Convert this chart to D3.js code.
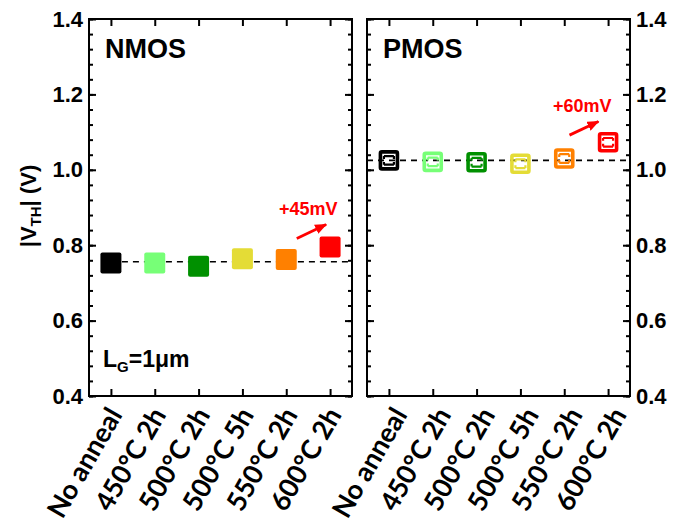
<!DOCTYPE html>
<html>
<head>
<meta charset="utf-8">
<script src="https://cdn.jsdelivr.net/npm/d3@7"></script>
<style>
  body { margin: 0; background: #fff; }
  svg { display: block; }
</style>
</head>
<body>
<svg id="chart" width="673" height="526"></svg>
<script>
// Anneal conditions shared by both device panels
const categories = ["No anneal", "450°C 2h", "500°C 2h", "500°C 5h", "550°C 2h", "600°C 2h"];
const markerColors = ["#000000", "#77ff77", "#009000", "#e4dc36", "#ff8000", "#ff0000"];

// Threshold voltage |VTH| (V) per condition
const nmosVth = [0.753, 0.753, 0.744, 0.764, 0.762, 0.795];
const pmosVth = [1.025, 1.021, 1.020, 1.016, 1.030, 1.073];

// Reference level (dashed line) for each device type
const nmosBaseline = 0.756;
const pmosBaseline = 1.025;

// Y axis ticks
const yMajorTicks = [0.4, 0.6, 0.8, 1.0, 1.2, 1.4];
const yMinorTicks = d3.range(0.4, 1.4001, 0.04);

const svg = d3.select("#chart");
const plotTop = 19, plotBottom = 396;
const y = d3.scaleLinear().domain([0.4, 1.4]).range([plotBottom, plotTop]);

const panels = [
  { name: "NMOS", left: 89, right: 352, values: nmosVth, baseline: nmosBaseline,
    filled: true, labelSide: "left", shift: "+45mV", catLabelDx: 4,
    arrow: [[4.24, 0.818], [4.91, 0.855]], shiftAt: [4.5, 0.881], lineFrom: 0 },
  { name: "PMOS", left: 367, right: 630, values: pmosVth, baseline: pmosBaseline,
    filled: false, labelSide: "right", shift: "+60mV", catLabelDx: 11,
    arrow: [[4.12, 1.092], [4.78, 1.128]], shiftAt: [4.41, 1.154], lineFrom: -0.5 }
];

const defs = svg.append("defs");
defs.append("marker")
  .attr("id", "arrowhead")
  .attr("viewBox", "0 0 12 10")
  .attr("refX", 11).attr("refY", 5)
  .attr("markerWidth", 12).attr("markerHeight", 10)
  .attr("markerUnits", "userSpaceOnUse")
  .attr("orient", "auto")
  .append("path")
  .attr("d", "M0,0 L12,5 L0,10 Z")
  .attr("fill", "#ff0000");

const tickFont = "'Liberation Sans', Arial, sans-serif";

panels.forEach(p => {
  const x = d3.scaleLinear().domain([-0.5, categories.length - 0.5]).range([p.left, p.right]);
  const g = svg.append("g");

  // Y axes: major ticks (labelled on one side), minor ticks, mirrored on the other side
  const makeY = (side, labelled) => {
    const axMajor = (side === "left" ? d3.axisLeft(y) : d3.axisRight(y))
      .tickValues(yMajorTicks).tickSizeInner(-7).tickSizeOuter(0).tickPadding(6)
      .tickFormat(labelled ? d3.format(".1f") : "");
    const axMinor = (side === "left" ? d3.axisLeft(y) : d3.axisRight(y))
      .tickValues(yMinorTicks).tickSizeInner(-4).tickSizeOuter(0).tickFormat("");
    const xpos = side === "left" ? p.left : p.right;
    const gm = g.append("g").attr("transform", `translate(${xpos},0)`).call(axMinor);
    const gM = g.append("g").attr("transform", `translate(${xpos},0)`).call(axMajor);
    [gm, gM].forEach(a => {
      a.select(".domain").remove();
      a.selectAll("line").attr("stroke", "#000").attr("stroke-width", 2);
    });
    gM.selectAll("text")
      .attr("font-family", tickFont).attr("font-weight", "bold")
      .attr("font-size", 22).attr("fill", "#000");
  };
  makeY("left", p.labelSide === "left");
  makeY("right", p.labelSide === "right");

  // Category ticks on bottom and top edges, pointing inward
  const catTicks = d3.range(categories.length);
  const bAx = d3.axisBottom(x).tickValues(catTicks).tickSizeInner(-7).tickSizeOuter(0).tickFormat("");
  const tAx = d3.axisTop(x).tickValues(catTicks).tickSizeInner(-7).tickSizeOuter(0).tickFormat("");
  [[bAx, plotBottom], [tAx, plotTop]].forEach(([ax, ypos]) => {
    const a = g.append("g").attr("transform", `translate(0,${ypos})`).call(ax);
    a.select(".domain").remove();
    a.selectAll("line").attr("stroke", "#000").attr("stroke-width", 2);
  });

  // Rotated category labels
  g.append("g").selectAll("text")
    .data(categories)
    .join("text")
    .attr("transform", (d, i) => `translate(${x(i) + p.catLabelDx},${plotBottom + 14}) rotate(-60)`)
    .attr("text-anchor", "end")
    .attr("dy", "0.35em")
    .attr("font-family", "Lato, 'Open Sans', sans-serif")
    .attr("font-weight", "bold")
    .attr("font-size", 27)
    .attr("fill", "#000")
    .text(d => d);

  // Reference level
  g.append("line")
    .attr("x1", x(p.lineFrom)).attr("x2", x(categories.length - 0.5))
    .attr("y1", y(p.baseline)).attr("y2", y(p.baseline))
    .attr("stroke", "#000").attr("stroke-width", 1.6)
    .attr("stroke-dasharray", "6,5");

  // Markers
  const marks = g.append("g").selectAll("g")
    .data(p.values)
    .join("g")
    .attr("transform", (d, i) => `translate(${x(i)},${y(d)})`);

  if (p.filled) {
    marks.append("rect")
      .attr("x", -10.5).attr("y", -10.5).attr("width", 21).attr("height", 21)
      .attr("rx", 2)
      .attr("fill", (d, i) => markerColors[i]);
  } else {
    marks.append("rect")
      .attr("x", -8.5).attr("y", -8.5).attr("width", 17).attr("height", 17)
      .attr("rx", 1.5)
      .attr("fill", "none")
      .attr("stroke", (d, i) => markerColors[i])
      .attr("stroke-width", 3.6);
    // small error bar drawn inside each hollow marker
    marks.append("path")
      .attr("d", "M-5,-4.3 H5 M-5,-4.3 V-1.5 M5,-4.3 V-1.5 M-5,4.3 H5 M-5,4.3 V1.5 M5,4.3 V1.5")
      .attr("fill", "none")
      .attr("stroke", (d, i) => markerColors[i])
      .attr("stroke-width", 2.2);
  }

  // Frame
  g.append("rect")
    .attr("x", p.left).attr("y", plotTop)
    .attr("width", p.right - p.left).attr("height", plotBottom - plotTop)
    .attr("fill", "none").attr("stroke", "#000").attr("stroke-width", 2);

  // Panel title
  g.append("text")
    .attr("x", p.left + 16).attr("y", 58)
    .attr("font-family", tickFont).attr("font-weight", "bold")
    .attr("font-size", 27).attr("fill", "#000")
    .text(p.name);

  // Shift annotation with arrow
  g.append("line")
    .attr("x1", x(p.arrow[0][0])).attr("y1", y(p.arrow[0][1]))
    .attr("x2", x(p.arrow[1][0])).attr("y2", y(p.arrow[1][1]))
    .attr("stroke", "#ff0000").attr("stroke-width", 2.8)
    .attr("marker-end", "url(#arrowhead)");
  g.append("text")
    .attr("x", x(p.shiftAt[0])).attr("y", y(p.shiftAt[1]))
    .attr("text-anchor", "middle")
    .attr("font-family", tickFont).attr("font-weight", "bold")
    .attr("font-size", 18).attr("fill", "#ff0000")
    .text(p.shift);
});

// Gate length note
const lg = svg.append("text")
  .attr("x", 103).attr("y", 367)
  .attr("font-family", tickFont).attr("font-weight", "bold")
  .attr("font-size", 23).attr("fill", "#000");
lg.append("tspan").text("L");
lg.append("tspan").attr("font-size", 15).attr("dy", 5).text("G");
lg.append("tspan").attr("dy", -5).text("=1μm");

// Y axis title
const yt = svg.append("text")
  .attr("transform", "translate(36,206) rotate(-90)")
  .attr("text-anchor", "middle")
  .attr("font-family", tickFont).attr("font-weight", "bold")
  .attr("font-size", 22).attr("fill", "#000");
yt.append("tspan").text("|V");
yt.append("tspan").attr("font-size", 15).attr("dy", 5).text("TH");
yt.append("tspan").attr("dy", -5).text("| (V)");
</script>
</body>
</html>
